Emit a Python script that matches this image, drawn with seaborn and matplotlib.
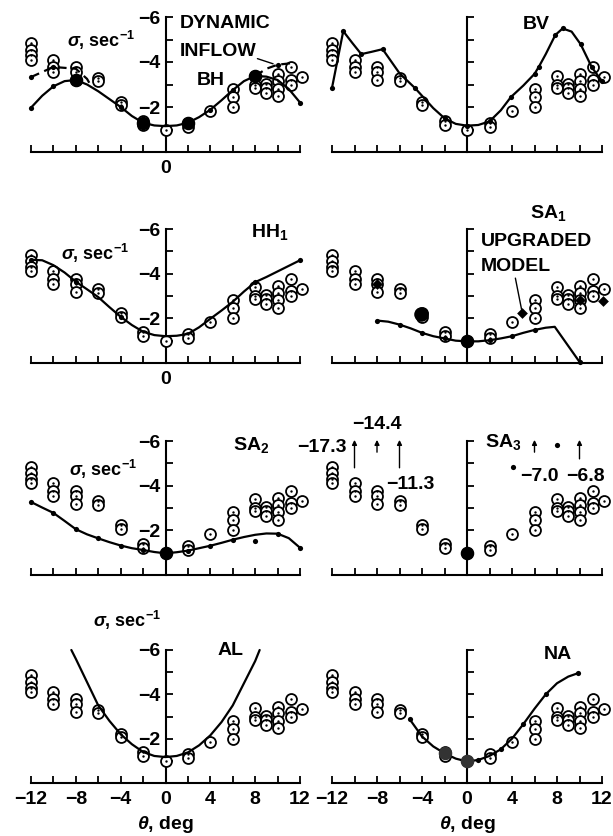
import matplotlib
matplotlib.use("Agg")
import matplotlib.pyplot as plt
import pandas as pd
import seaborn as sns

sns.set_theme(style="white")
plt.rcParams["font.family"] = ["Liberation Sans", "DejaVu Sans"]
plt.rcParams["font.weight"] = "bold"
plt.rcParams["mathtext.fontset"] = "custom"
plt.rcParams["mathtext.rm"] = "Liberation Sans:bold"
plt.rcParams["mathtext.it"] = "Liberation Sans:italic:bold"
plt.rcParams["mathtext.bf"] = "Liberation Sans:bold"
plt.rcParams["axes.unicode_minus"] = False
plt.rcParams["text.color"] = "black"
plt.rcParams["xtick.color"] = "black"
plt.rcParams["ytick.color"] = "black"
plt.rcParams["axes.labelcolor"] = "black"

M = "\u2212"

# ---- flight-test eigenvalues (same set on every panel) ----
flight_theta = [-12, -12, -12, -12, -10, -10, -10, -8, -8, -8, -6, -6, -4, -4,
                -2, -2, 0, 2, 2, 4, 6, 6, 6, 8, 8, 8, 9, 9, 9,
                10, 10, 10, 10, 11.2, 11.2, 11.2, 12.2]
flight_sigma = [-4.85, -4.55, -4.3, -4.1, -4.1, -3.78, -3.55, -3.78, -3.55, -3.2,
                -3.3, -3.15, -2.22, -2.07, -1.38, -1.2, -1.0, -1.3, -1.12, -1.84,
                -2.8, -2.45, -2.0, -3.4, -3.0, -2.85, -3.04, -2.85, -2.62,
                -3.45, -3.15, -2.8, -2.47, -3.78, -3.22, -3.0, -3.32]

# ---- BH model: quasi-static and dynamic-inflow branches ----
bh_theta = list(range(-12, 13))
bh_sigma = [-1.97, -2.5, -2.92, -3.15, -3.2, -3.0, -2.7, -2.35, -2.0, -1.6, -1.3,
            -1.18, -1.15, -1.18, -1.3, -1.55, -1.88, -2.3, -2.75, -3.15, -3.38,
            -3.35, -3.2, -2.8, -2.2]
bh_dots = [-12, -10, -4, 4, 6, 12]
bh_big = [-8, -2, 2, 8]
bh_dyn_left_theta = [-12, -10, -8, -7, -6.6]
bh_dyn_left_sigma = [-3.33, -3.78, -3.7, -3.25, -2.9]
bh_dyn_right_theta = [8, 9, 10, 11.3]
bh_dyn_right_sigma = [-3.38, -3.7, -3.88, -3.95]

# ---- BV model ----
bv_theta = [-12, -11, -10.2, -9.4, -8.5, -7.5, -6, -4.6, -3, -2, -1, 0, 1, 2, 3,
            3.9, 5, 6, 6.4, 7, 7.85, 8.5, 9.3, 10.1, 11.1, 12]
bv_sigma = [-2.85, -5.37, -4.85, -4.35, -4.45, -4.57, -3.5, -2.83, -1.95, -1.5,
            -1.25, -1.17, -1.2, -1.36, -1.85, -2.44, -2.95, -3.47, -3.8, -4.35,
            -5.2, -5.49, -5.35, -4.79, -3.76, -3.15]
bv_dots = [-12, -11, -9.4, -7.5, -4.6, -2, 0, 2, 3.9, 6, 6.4, 7.85, 8.5, 10.1, 11.1, 12]

# ---- HH1 model ----
hh_theta = list(range(-12, 13))
hh_sigma = [-4.62, -4.6, -4.38, -4.05, -3.64, -3.3, -2.95, -2.5, -2.07, -1.7, -1.4,
            -1.25, -1.2, -1.22, -1.3, -1.6, -1.98, -2.35, -2.74, -3.2, -3.62,
            -3.85, -4.1, -4.35, -4.6]
hh_dots = [-12, -8, -4, 8, 12]

# ---- SA1 model and upgraded-model points ----
sa1_theta = [-8, -7, -6, -5, -4, -3, -2, -1, 0, 1, 2, 3, 4, 5, 6, 7, 7.8, 10]
sa1_sigma = [-1.9, -1.85, -1.72, -1.55, -1.35, -1.2, -1.1, -1.0, -0.97, -0.97,
             -1.02, -1.1, -1.2, -1.35, -1.48, -1.58, -1.62, -0.05]
sa1_dots = [-8, -6, -4, -2, 2, 4, 6, 10]
sa1_big = [0]
sa1_fill_theta = [-4.1]
sa1_fill_sigma = [-2.2]
upg_theta = [-8, 4.9, 10, 12.1]
upg_sigma = [-3.55, -2.22, -2.8, -2.77]

# ---- SA2 model ----
sa2_theta = list(range(-12, 13))
sa2_sigma = [-3.27, -3.02, -2.78, -2.42, -2.05, -1.82, -1.64, -1.47, -1.32, -1.2,
             -1.12, -1.03, -0.97, -1.02, -1.09, -1.2, -1.31, -1.44, -1.58, -1.7,
             -1.8, -1.86, -1.85, -1.65, -1.22]
sa2_dots = [-12, -10, -8, -6, -4, -2, 2, 4, 6, 10, 12]
sa2_big = [0]
sa2_extra_theta = [8]
sa2_extra_sigma = [-1.52]

# ---- SA3 model (mostly off scale) ----
sa3_theta = [0, 4.1, 8]
sa3_sigma = [-1.0, -4.85, -5.8]
sa3_arrow_theta = [-10, -8, -6, 6, 10]
sa3_arrow_tail = [-4.8, -5.5, -4.8, -5.5, -5.2]
sa3_values = ["-17.3", "-14.4", "-11.3", "-7.0", "-6.8"]

# ---- AL model ----
al_theta = [-8.4, -8, -7, -6, -5, -4, -3, -2, -1, 0, 1, 2, 3, 4, 5, 6, 7, 8, 8.4]
al_sigma = [-6.0, -5.6, -4.55, -3.5, -2.8, -2.2, -1.75, -1.4, -1.22, -1.17, -1.22,
            -1.38, -1.7, -2.15, -2.75, -3.5, -4.5, -5.5, -6.0]

# ---- NA model ----
na_theta = [-5.1, -4, -3, -2, -1, 0, 1, 2, 3, 4, 5, 6, 7, 8, 9, 9.9]
na_sigma = [-2.88, -2.1, -1.65, -1.34, -1.1, -0.97, -1.04, -1.22, -1.52, -2.0,
            -2.65, -3.35, -4.0, -4.5, -4.8, -4.96]
na_dots = [-5.1, 1, 3, 5, 7, 9.9]
na_big = [-2, 0]

x_major = [-12, -8, -4, 0, 4, 8, 12]
x_minor = [-10, -6, -2, 2, 6, 10]
y_major = [-6, -4, -2]
y_minor = [-5, -3, -1]

FS = 14
W, H = 613, 836
col_px = [(31, 300), (332, 602)]
row_px = [(17, 152), (229, 363), (441, 575), (650, 783)]

fig = plt.figure(figsize=(W / 100, H / 100), dpi=100, facecolor="white")


def make_axes(col, row):
    L, R = col_px[col]
    T, B = row_px[row]
    per = (R - L) / 24
    rect = [(L - per) / W, 1 - B / H, per * 26 / W, (B - T) / H]
    ax = fig.add_axes(rect)
    ax.set_xlim(-13, 13)
    ax.set_ylim(0, -6)
    ax.patch.set_alpha(0)
    for s in ["top", "right"]:
        ax.spines[s].set_visible(False)
    ax.spines["left"].set_position(("data", 0))
    ax.spines["left"].set_bounds(-6, 0)
    ax.spines["bottom"].set_bounds(-12, 12)
    for s in ["left", "bottom"]:
        ax.spines[s].set_color("black")
        ax.spines[s].set_linewidth(1.5)
    ax.set_xticks(x_major)
    ax.set_xticks(x_minor, minor=True)
    ax.set_yticks(y_major)
    ax.set_yticks(y_minor, minor=True)
    ax.tick_params(axis="both", which="both", direction="in", length=5, width=1.3,
                   color="black", labelcolor="black", bottom=True, left=True,
                   labelsize=FS)
    ax.tick_params(axis="x", pad=6)
    ax.tick_params(axis="y", pad=4)
    if row == 3:
        ax.set_xticklabels([t.replace("-", M) for t in map(str, x_major)])
    elif col == 0 and row in (0, 1):
        ax.set_xticklabels(["0" if t == 0 else "" for t in x_major])
    else:
        ax.tick_params(axis="x", labelbottom=False)
    if col == 0:
        ax.set_yticklabels([M + str(-t) for t in y_major])
    else:
        ax.tick_params(axis="y", labelleft=False)
    return ax


def flight(ax):
    sns.scatterplot(x=flight_theta, y=flight_sigma, ax=ax, s=62, color="white",
                    edgecolor="black", linewidth=1.3, zorder=3, clip_on=False)
    sns.scatterplot(x=flight_theta, y=flight_sigma, ax=ax, s=3, color="black",
                    linewidth=0, zorder=3.5, clip_on=False)


def curve(ax, th, sg, dashed=False):
    df = pd.DataFrame({"theta": th, "sigma": sg})
    sns.lineplot(data=df, x="theta", y="sigma", ax=ax, color="black", linewidth=1.6,
                 sort=False, estimator=None, linestyle=(0, (4, 2.5)) if dashed else "-",
                 zorder=4, clip_on=False)


def dots(ax, th, sg, size=14, color="black"):
    sns.scatterplot(x=th, y=sg, ax=ax, s=size, color=color, linewidth=0,
                    zorder=5, clip_on=False)


def pick(th_list, th, sg):
    return [sg[th.index(t)] for t in th_list]


def sigma_label(ax, x, y):
    ax.text(x, y, r"$\sigma$, sec$^{-1}$", fontsize=FS - 1, ha="left", va="baseline")


def finish(ax):
    ax.set_xlabel("")
    ax.set_ylabel("")


# BH
ax = make_axes(0, 0)
flight(ax)
curve(ax, bh_theta, bh_sigma)
curve(ax, bh_dyn_left_theta, bh_dyn_left_sigma, dashed=True)
curve(ax, bh_dyn_right_theta, bh_dyn_right_sigma, dashed=True)
dots(ax, bh_dots, pick(bh_dots, bh_theta, bh_sigma))
dots(ax, bh_big, pick(bh_big, bh_theta, bh_sigma), size=95)
dots(ax, [-12, -10, 10], [-3.33, -3.78, -3.88])
ax.plot([8.2, 9.6], [-4.15, -3.92], color="black", lw=1.0)
ax.text(1.3, -5.5, "DYNAMIC", fontsize=FS, ha="left", va="baseline")
ax.text(1.3, -4.27, "INFLOW", fontsize=FS, ha="left", va="baseline")
ax.text(4.0, -2.98, "BH", fontsize=FS, ha="center", va="baseline")
sigma_label(ax, -8.8, -4.68)
finish(ax)

# BV
ax = make_axes(1, 0)
flight(ax)
curve(ax, bv_theta, bv_sigma)
dots(ax, bv_dots, pick(bv_dots, bv_theta, bv_sigma))
ax.text(6.2, -5.45, "BV", fontsize=FS, ha="center", va="baseline")
finish(ax)

# HH1
ax = make_axes(0, 1)
flight(ax)
curve(ax, hh_theta, hh_sigma)
dots(ax, hh_dots, pick(hh_dots, hh_theta, hh_sigma))
ax.text(7.6, -5.66, r"HH$_1$", fontsize=FS, ha="left", va="baseline")
sigma_label(ax, -9.3, -4.62)
finish(ax)

# SA1
ax = make_axes(1, 1)
flight(ax)
curve(ax, sa1_theta, sa1_sigma)
dots(ax, sa1_dots, pick(sa1_dots, sa1_theta, sa1_sigma))
dots(ax, sa1_big, pick(sa1_big, sa1_theta, sa1_sigma), size=95)
dots(ax, sa1_fill_theta, sa1_fill_sigma, size=110)
sns.scatterplot(x=upg_theta, y=upg_sigma, ax=ax, marker="D", s=30, color="black",
                linewidth=0, zorder=6, clip_on=False)
ax.plot([4.3, 4.85], [-3.8, -2.4], color="black", lw=1.0)
ax.text(5.6, -6.5, r"SA$_1$", fontsize=FS, ha="left", va="baseline")
ax.text(1.2, -5.25, "UPGRADED", fontsize=FS, ha="left", va="baseline")
ax.text(1.2, -4.1, "MODEL", fontsize=FS, ha="left", va="baseline")
finish(ax)

# SA2
ax = make_axes(0, 2)
flight(ax)
curve(ax, sa2_theta, sa2_sigma)
dots(ax, sa2_dots, pick(sa2_dots, sa2_theta, sa2_sigma))
dots(ax, sa2_big, pick(sa2_big, sa2_theta, sa2_sigma), size=95)
dots(ax, sa2_extra_theta, sa2_extra_sigma)
ax.text(6.0, -5.6, r"SA$_2$", fontsize=FS, ha="left", va="baseline")
sigma_label(ax, -8.6, -4.44)
finish(ax)

# SA3
ax = make_axes(1, 2)
flight(ax)
dots(ax, sa3_theta[:1], sa3_sigma[:1], size=95)
dots(ax, sa3_theta[1:], sa3_sigma[1:])
for t, tail in zip(sa3_arrow_theta, sa3_arrow_tail):
    ax.annotate("", xy=(t, -6.05), xytext=(t, tail), annotation_clip=False,
                arrowprops=dict(arrowstyle="-|>", color="black", lw=1.0,
                                mutation_scale=7, shrinkA=0, shrinkB=0))
label_pos = [(-10.7, -5.52, "right"), (-8.0, -6.55, "center"), (-5.0, -3.86, "center"),
             (6.4, -4.2, "center"), (10.5, -4.2, "center")]
for (x, y, ha), v in zip(label_pos, sa3_values):
    ax.text(x, y, v.replace("-", M), fontsize=FS, ha=ha, va="baseline")
ax.text(1.6, -5.74, r"SA$_3$", fontsize=FS, ha="left", va="baseline")
finish(ax)

# AL
ax = make_axes(0, 3)
flight(ax)
curve(ax, al_theta, al_sigma)
ax.text(5.8, -5.77, "AL", fontsize=FS, ha="center", va="baseline")
sigma_label(ax, -6.5, -7.04)
ax.text(0, 1.85, r"$\theta$, deg", fontsize=FS, ha="center", va="center")
finish(ax)

# NA
ax = make_axes(1, 3)
flight(ax)
curve(ax, na_theta, na_sigma)
dots(ax, na_dots, pick(na_dots, na_theta, na_sigma))
dots(ax, na_big, pick(na_big, na_theta, na_sigma), size=95, color="#333333")
ax.text(8.1, -5.59, "NA", fontsize=FS, ha="center", va="baseline")
ax.text(0, 1.85, r"$\theta$, deg", fontsize=FS, ha="center", va="center")
finish(ax)

fig.savefig("out.png", dpi=100, facecolor="white")
